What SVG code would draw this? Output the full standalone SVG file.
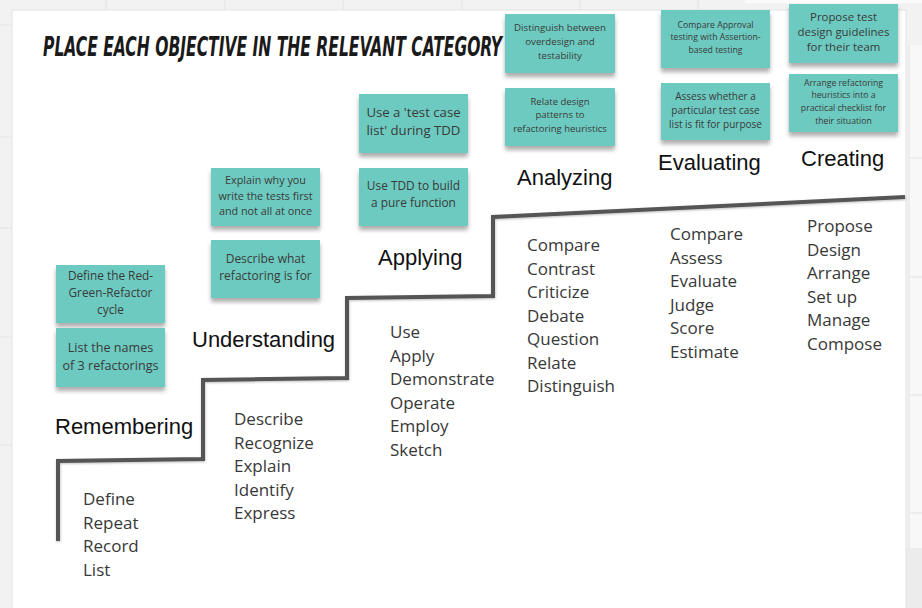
<svg xmlns="http://www.w3.org/2000/svg" width="922" height="608" viewBox="0 0 922 608">
<defs>
<style>
.sticky{fill:#6dcac0;}
.st{font-family:"Open Sans","Noto Sans",sans-serif;fill:#3a3a3a;text-anchor:middle;}
.lvl{font-family:"Liberation Sans",Arial,sans-serif;font-size:22px;fill:#111;}
.verb{font-family:"Open Sans","Noto Sans",sans-serif;font-size:17px;fill:#383838;}
.grid{stroke:#e3e3e3;stroke-width:1;}
</style>
<filter id="sh" x="-10%" y="-10%" width="120%" height="130%">
<feDropShadow dx="0" dy="4" stdDeviation="2.2" flood-color="#000" flood-opacity="0.32"/>
</filter>
<filter id="lsh" x="-5%" y="-5%" width="110%" height="110%">
<feDropShadow dx="0.5" dy="1" stdDeviation="0.8" flood-color="#000" flood-opacity="0.25"/>
</filter>
</defs>

<g id="background">
<rect x="0" y="0" width="922" height="608" fill="#f2f2f2"/>
<g class="grid">
<line x1="106" y1="0" x2="106" y2="10"/>
<line x1="225" y1="0" x2="225" y2="10"/>
<line x1="343" y1="0" x2="343" y2="10"/>
<line x1="462" y1="0" x2="462" y2="10"/>
<line x1="580" y1="0" x2="580" y2="10"/>
<line x1="698" y1="0" x2="698" y2="10"/>
<line x1="0" y1="25" x2="12" y2="25"/>
<line x1="0" y1="137" x2="12" y2="137"/>
<line x1="0" y1="228" x2="12" y2="228"/>
<line x1="0" y1="337" x2="12" y2="337"/>
<line x1="0" y1="445" x2="12" y2="445"/>
</g>
<rect x="745" y="0" width="177" height="3" fill="#fbfbfb"/>
<rect x="909" y="45" width="13" height="503" fill="#f8f8f8"/>
<line x1="909" y1="45" x2="909" y2="548" stroke="#e2e2e2"/>
<g class="grid">
<line x1="910" y1="158" x2="922" y2="158"/>
<line x1="910" y1="277" x2="922" y2="277"/>
<line x1="910" y1="395" x2="922" y2="395"/>
<line x1="910" y1="513" x2="922" y2="513"/>
</g>
<rect x="906" y="548" width="16" height="60" fill="#ececec"/>
<rect x="12" y="10" width="894" height="600" fill="#ffffff" stroke="#e2e2e2" stroke-width="1"/>
</g>

<text id="title" transform="translate(43,56) scale(1,1.63)" x="0" y="0" font-family="'Liberation Sans Narrow','DejaVu Sans Condensed',sans-serif" font-weight="bold" font-style="italic" font-size="16" fill="#1a1a1a" textLength="459" lengthAdjust="spacingAndGlyphs">PLACE EACH OBJECTIVE IN THE RELEVANT CATEGORY</text>

<g id="connectors">
<path id="staircase" d="M58,541 L58,461 L203,459 L203,380 L347,378 L347,298 L493,296 L493,217 L905,197" fill="none" stroke="#555" stroke-width="4" stroke-linejoin="miter" filter="url(#lsh)"/>
</g>

<g id="level-remembering">
<text class="lvl" x="55" y="434">Remembering</text>
<text class="verb" x="83" y="505">Define</text>
<text class="verb" x="83" y="528.5">Repeat</text>
<text class="verb" x="83" y="552">Record</text>
<text class="verb" x="83" y="575.5">List</text>
</g>
<g id="level-understanding">
<text class="lvl" x="192" y="347">Understanding</text>
<text class="verb" x="234" y="425">Describe</text>
<text class="verb" x="234" y="448.5">Recognize</text>
<text class="verb" x="234" y="472">Explain</text>
<text class="verb" x="234" y="495.5">Identify</text>
<text class="verb" x="234" y="519">Express</text>
</g>
<g id="level-applying">
<text class="lvl" x="378" y="265">Applying</text>
<text class="verb" x="390" y="338">Use</text>
<text class="verb" x="390" y="361.5">Apply</text>
<text class="verb" x="390" y="385">Demonstrate</text>
<text class="verb" x="390" y="408.5">Operate</text>
<text class="verb" x="390" y="432">Employ</text>
<text class="verb" x="390" y="455.5">Sketch</text>
</g>
<g id="level-analyzing">
<text class="lvl" x="517" y="185">Analyzing</text>
<text class="verb" x="527" y="251">Compare</text>
<text class="verb" x="527" y="274.5">Contrast</text>
<text class="verb" x="527" y="298">Criticize</text>
<text class="verb" x="527" y="321.5">Debate</text>
<text class="verb" x="527" y="345">Question</text>
<text class="verb" x="527" y="368.5">Relate</text>
<text class="verb" x="527" y="392">Distinguish</text>
</g>
<g id="level-evaluating">
<text class="lvl" x="658" y="170">Evaluating</text>
<text class="verb" x="670" y="240">Compare</text>
<text class="verb" x="670" y="263.5">Assess</text>
<text class="verb" x="670" y="287">Evaluate</text>
<text class="verb" x="670" y="310.5">Judge</text>
<text class="verb" x="670" y="334">Score</text>
<text class="verb" x="670" y="357.5">Estimate</text>
</g>
<g id="level-creating">
<text class="lvl" x="801" y="166">Creating</text>
<text class="verb" x="807" y="232">Propose</text>
<text class="verb" x="807" y="255.5">Design</text>
<text class="verb" x="807" y="279">Arrange</text>
<text class="verb" x="807" y="302.5">Set up</text>
<text class="verb" x="807" y="326">Manage</text>
<text class="verb" x="807" y="349.5">Compose</text>
</g>

<g id="sticky-define-rgr">
<rect class="sticky" x="56" y="265" width="109" height="58" filter="url(#sh)"/>
<text class="st" font-size="11.8" x="110.5" y="280">Define the Red-</text>
<text class="st" font-size="11.8" x="110.5" y="297">Green-Refactor</text>
<text class="st" font-size="11.8" x="110.5" y="314">cycle</text>
</g>
<g id="sticky-list-refactorings">
<rect class="sticky" x="56" y="328" width="109" height="59" filter="url(#sh)"/>
<text class="st" font-size="12.6" x="110.5" y="351.5">List the names</text>
<text class="st" font-size="12.6" x="110.5" y="369.5">of 3 refactorings</text>
</g>
<g id="sticky-explain-tests-first">
<rect class="sticky" x="211" y="168" width="109" height="58" filter="url(#sh)"/>
<text class="st" font-size="10.8" x="265.5" y="184">Explain why you</text>
<text class="st" font-size="10.8" x="265.5" y="199.5">write the tests first</text>
<text class="st" font-size="10.8" x="265.5" y="215">and not all at once</text>
</g>
<g id="sticky-describe-refactoring">
<rect class="sticky" x="211" y="240" width="109" height="58" filter="url(#sh)"/>
<text class="st" font-size="12" x="265.5" y="263">Describe what</text>
<text class="st" font-size="12" x="265.5" y="280">refactoring is for</text>
</g>
<g id="sticky-test-case-list">
<rect class="sticky" x="359" y="94" width="109" height="59" filter="url(#sh)"/>
<text class="st" font-size="13.2" x="413.5" y="116.5">Use a 'test case</text>
<text class="st" font-size="13.2" x="413.5" y="134.5">list' during TDD</text>
</g>
<g id="sticky-pure-function">
<rect class="sticky" x="359" y="168" width="109" height="58" filter="url(#sh)"/>
<text class="st" font-size="11.9" x="413.5" y="190">Use TDD to build</text>
<text class="st" font-size="11.9" x="413.5" y="207">a pure function</text>
</g>
<g id="sticky-overdesign">
<rect class="sticky" x="505" y="14" width="110" height="59" filter="url(#sh)"/>
<text class="st" font-size="9.7" x="560" y="31">Distinguish between</text>
<text class="st" font-size="9.7" x="560" y="45.2">overdesign and</text>
<text class="st" font-size="9.7" x="560" y="59.4">testability</text>
</g>
<g id="sticky-design-patterns">
<rect class="sticky" x="505" y="88" width="110" height="58" filter="url(#sh)"/>
<text class="st" font-size="9.5" x="560" y="104.8">Relate design</text>
<text class="st" font-size="9.5" x="560" y="118.4">patterns to</text>
<text class="st" font-size="9.5" x="560" y="132">refactoring heuristics</text>
</g>
<g id="sticky-approval-testing">
<rect class="sticky" x="661" y="10" width="109" height="58" filter="url(#sh)"/>
<text class="st" font-size="8.7" x="715.5" y="27.5">Compare Approval</text>
<text class="st" font-size="8.7" x="715.5" y="40.3">testing with Assertion-</text>
<text class="st" font-size="8.7" x="715.5" y="53.1">based testing</text>
</g>
<g id="sticky-assess-list">
<rect class="sticky" x="661" y="83" width="109" height="57" filter="url(#sh)"/>
<text class="st" font-size="10" x="715.5" y="100">Assess whether a</text>
<text class="st" font-size="10" x="715.5" y="114">particular test case</text>
<text class="st" font-size="10" x="715.5" y="128">list is fit for purpose</text>
</g>
<g id="sticky-guidelines">
<rect class="sticky" x="789" y="4" width="109" height="59" filter="url(#sh)"/>
<text class="st" font-size="11.4" x="843.5" y="20.5">Propose test</text>
<text class="st" font-size="11.4" x="843.5" y="35.8">design guidelines</text>
<text class="st" font-size="11.4" x="843.5" y="51.1">for their team</text>
</g>
<g id="sticky-checklist">
<rect class="sticky" x="789" y="74" width="109" height="58" filter="url(#sh)"/>
<text class="st" font-size="8.7" x="843.5" y="85.5">Arrange refactoring</text>
<text class="st" font-size="8.7" x="843.5" y="98.3">heuristics into a</text>
<text class="st" font-size="8.7" x="843.5" y="111.1">practical checklist for</text>
<text class="st" font-size="8.7" x="843.5" y="123.9">their situation</text>
</g>
</svg>
